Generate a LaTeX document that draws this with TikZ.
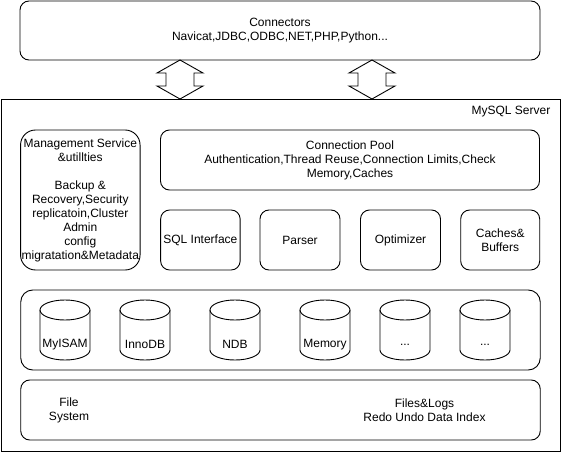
\documentclass[tikz,border=0pt]{standalone}
\usepackage{fontspec}
\setmainfont{Liberation Sans}
\usetikzlibrary{calc}
\begin{document}
\begin{tikzpicture}[x=1pt,y=-1pt, line width=0.9pt,
  font=\fontsize{12}{14}\selectfont,
  box/.style={draw, rounded corners=9pt, align=center, inner sep=0pt},
  plain/.style={align=center, inner sep=0pt},
  cyl/.pic={
    \draw[line width=0.9pt] (0,-20) ellipse [x radius=25pt, y radius=10pt];
    \draw[line width=0.9pt] (-25,-20) -- (-25,20) arc [start angle=180, end angle=360, x radius=25pt, y radius=10pt] -- (25,-20);
  }
]
\useasboundingbox (0,0) rectangle (571,452);

% Connectors
\node[box, minimum width=520pt, minimum height=59pt] (conn) at (280,30.5)
  {Connectors\\Navicat,JDBC,ODBC,NET,PHP,Python...};

% Server outer box
\node[draw, inner sep=0pt, minimum width=559pt, minimum height=352pt] (server) at (280.5,275) {};
\node[plain] (srvlabel) at (511,112) {MySQL Server};

% Block double arrows
\coordinate (a1) at (180,60);
\coordinate (a2) at (372,60);
\draw[line join=miter] (a1) -- ++(23,13) -- ++(-9,0) -- ++(0,13) -- ++(9,0) -- ++(-23,13)
    -- ++(-23,-13) -- ++(9,0) -- ++(0,-13) -- ++(-9,0) -- cycle;
\draw[line join=miter] (a2) -- ++(23,13) -- ++(-9,0) -- ++(0,13) -- ++(9,0) -- ++(-23,13)
    -- ++(-23,-13) -- ++(9,0) -- ++(0,-13) -- ++(-9,0) -- cycle;

% Management
\node[box, rounded corners=15pt, minimum width=119.5pt, minimum height=140pt] (mgmt) at (80.3,200)
  {Management Service\\\&utillties\\[14pt]Backup \&\\Recovery,Security\\replicatoin,Cluster\\Admin\\config\\migratation\&Metadata};

% Connection pool
\node[box, minimum width=379pt, minimum height=60pt] (pool) at (350,160)
  {Connection Pool\\Authentication,Thread Reuse,Connection Limits,Check\\Memory,Caches};

% Small boxes
\node[box, minimum width=79.5pt, minimum height=60pt] (sqli) at (200.4,240) {SQL Interface};
\node[box, minimum width=80pt, minimum height=60pt] (parser) at (300,240) {Parser};
\node[box, minimum width=80pt, minimum height=60pt] (opt) at (400.5,240) {Optimizer};
\node[box, minimum width=79pt, minimum height=60pt] (cache) at (500.2,240) {Caches\&\\Buffers};

% Storage engines
\node[box, rounded corners=12pt, minimum width=519.5pt, minimum height=80pt] (store) at (280.5,330) {};
\pic at (65,330) {cyl};  \node[plain] (e1) at (65,344.5) {MyISAM};
\pic at (145,330) {cyl}; \node[plain] (e2) at (145,344.5) {InnoDB};
\pic at (235,330) {cyl}; \node[plain] (e3) at (235,344.5) {NDB};
\pic at (325,330) {cyl}; \node[plain] (e4) at (325,344.5) {Memory};
\pic at (405,330) {cyl}; \node[plain] (e5) at (405,344.5) {...};
\pic at (485,330) {cyl}; \node[plain] (e6) at (485,344.5) {...};

% File system
\node[box, minimum width=519.5pt, minimum height=60pt] (files) at (280.5,410) {};
\node[plain] (fs) at (69,410.5) {File\\System};
\node[plain] (fl) at (424.5,410.5) {Files\&Logs\\Redo Undo Data Index};
\end{tikzpicture}
\end{document}
